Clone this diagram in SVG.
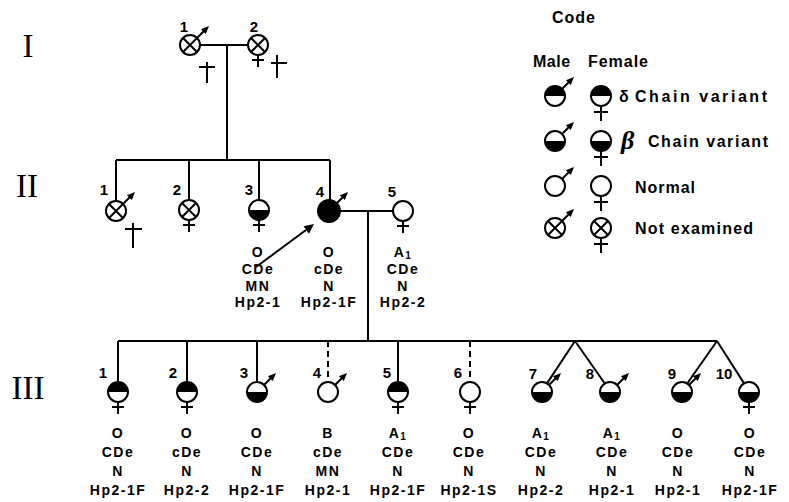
<svg xmlns="http://www.w3.org/2000/svg" width="789" height="502" viewBox="0 0 789 502">
  <style>
    .ln { stroke: #000; stroke-width: 2; fill: none; }
    .dash { stroke-dasharray: 6 4; }
    .ring { stroke: #000; stroke-width: 2; fill: none; }
    .ink { fill: #000; stroke: none; }
    .lbl { font-family: "Liberation Sans", Arial, sans-serif; font-weight: bold; font-size: 15px; text-anchor: middle; fill: #000; }
    .gt { font-family: "Liberation Sans", Arial, sans-serif; font-weight: bold; font-size: 14px; text-anchor: middle; letter-spacing: 1.5px; fill: #000; }
    .sub { font-size: 10px; }
    .rom { font-family: "Liberation Serif", "Times New Roman", serif; font-size: 33px; text-anchor: middle; fill: #000; }
    .leg { font-family: "Liberation Sans", Arial, sans-serif; font-weight: bold; font-size: 16px; fill: #000; }
  </style>
  <defs>
    <!-- symbol bodies, centred on the origin -->
    <g id="c-open"><circle r="10" fill="#fff" class="ring"/></g>
    <g id="c-x"><circle r="10" fill="#fff" class="ring"/><path class="ln" d="M-7,-7 L7,7 M-7,7 L7,-7"/></g>
    <g id="c-delta"><circle r="10" fill="#fff"/><path class="ink" d="M-10,0 A10,10 0 0 1 10,0 Z"/><circle r="10" class="ring"/></g>
    <g id="c-beta"><circle r="10" fill="#fff"/><path class="ink" d="M-10,0 A10,10 0 0 0 10,0 Z"/><circle r="10" class="ring"/></g>
    <g id="c-full"><circle r="11" class="ink"/><circle r="11" class="ring"/></g>
    <!-- male arrow and female cross -->
    <g id="m-arrow"><path class="ln" d="M7,-7 L14,-14"/><path class="ink" d="M19,-19 L15.8,-10.9 L10.9,-15.8 Z"/></g>
    <g id="f-cross"><path class="ln" d="M0,10 V22 M-6,15 H6"/></g>
    <g id="f-cross-l"><path class="ln" d="M0,10 V25 M-7,16 H7"/></g>
  </defs>

  <!-- generation numerals -->
  <g id="generations">
    <text class="rom" x="28" y="57">I</text>
    <text class="rom" x="27" y="197">II</text>
    <text class="rom" x="28" y="399">III</text>
  </g>

  <!-- legend -->
  <g id="legend">
    <text class="leg" x="552" y="23" textLength="43" lengthAdjust="spacing">Code</text>
    <text class="leg" x="533" y="67" letter-spacing="0.5">Male</text>
    <text class="leg" x="588" y="67" textLength="60" lengthAdjust="spacing">Female</text>

    <use href="#c-delta" x="555" y="96"/><use href="#m-arrow" x="555" y="96"/>
    <use href="#c-delta" x="601" y="96"/><use href="#f-cross-l" x="601" y="96"/>
    <text class="leg" x="619" y="102" font-size="17">δ</text>
    <text class="leg" x="635" y="102" textLength="132" lengthAdjust="spacing">Chain variant</text>

    <use href="#c-beta" x="555" y="141"/><use href="#m-arrow" x="555" y="141"/>
    <use href="#c-beta" x="601" y="141"/><use href="#f-cross-l" x="601" y="141"/>
    <text x="621" y="149" font-family="Liberation Serif, serif" font-style="italic" font-weight="bold" font-size="26">β</text>
    <text class="leg" x="648" y="147" textLength="120" lengthAdjust="spacing">Chain variant</text>

    <use href="#c-open" x="555" y="186"/><use href="#m-arrow" x="555" y="186"/>
    <use href="#c-open" x="601" y="186"/><use href="#f-cross-l" x="601" y="186"/>
    <text class="leg" x="635" y="193" textLength="60" lengthAdjust="spacing">Normal</text>

    <use href="#c-x" x="555" y="228"/><use href="#m-arrow" x="555" y="228"/>
    <use href="#c-x" x="601" y="228"/><use href="#f-cross-l" x="601" y="228"/>
    <text class="leg" x="635" y="234" textLength="118" lengthAdjust="spacing">Not examined</text>
  </g>

  <!-- lines of descent -->
  <g id="connectors">
    <path class="ln" d="M200,45 H248 M227,45 V160"/>
    <path class="ln" d="M116,160 H330 M116,160 V200 M189,160 V200 M259,160 V200 M330,160 V200"/>
    <path class="ln" d="M340,211 H393 M368,211 V341"/>
    <path class="ln" d="M118,341 H717"/>
    <path class="ln" d="M118,341 V382 M187,341 V382 M257,341 V382 M398,341 V382"/>
    <path class="ln dash" d="M328,341 V382 M470,341 V382"/>
    <path class="ln" d="M575,341 L547.5,382.6 M575,341 L604.3,382.8"/>
    <path class="ln" d="M717,341 L687.7,382.8 M717,341 L743.6,382.6"/>
  </g>

  <!-- generation I -->
  <g id="I-1">
    <use href="#c-x" x="190" y="45"/><use href="#m-arrow" x="190" y="45"/>
    <text class="lbl" x="184" y="32">1</text>
    <path class="ln" d="M207,62 V83 M199,67 H215"/>
  </g>
  <g id="I-2">
    <use href="#c-x" x="258" y="45"/><use href="#f-cross" x="258" y="45"/>
    <text class="lbl" x="254" y="32">2</text>
    <path class="ln" d="M277,55 V78 M271,63 H287"/>
  </g>

  <!-- generation II -->
  <g id="II-1">
    <use href="#c-x" x="116" y="211"/><use href="#m-arrow" x="116" y="211"/>
    <text class="lbl" x="104" y="195">1</text>
    <path class="ln" d="M133,223 V248 M125,229 H142"/>
  </g>
  <g id="II-2">
    <use href="#c-x" x="189" y="210"/><use href="#f-cross" x="189" y="210"/>
    <text class="lbl" x="177" y="195">2</text>
  </g>
  <g id="II-3">
    <use href="#c-beta" x="259" y="210"/><use href="#f-cross" x="259" y="210"/>
    <text class="lbl" x="249" y="195">3</text>
    <text class="gt" x="258" y="257">O</text>
    <text class="gt" x="258" y="274">CDe</text>
    <text class="gt" x="258" y="291">MN</text>
    <text class="gt" x="258" y="307">Hp2-1</text>
  </g>
  <g id="II-4">
    <use href="#c-full" x="329" y="211"/><use href="#m-arrow" x="329" y="211"/>
    <text class="lbl" x="320" y="197">4</text>
    <path class="ln" d="M256,267 L306,230"/>
    <path class="ink" d="M314,224 L303.5,226.3 L309,233.8 Z"/>
    <text class="gt" x="329" y="257">O</text>
    <text class="gt" x="329" y="274">cDe</text>
    <text class="gt" x="329" y="291">N</text>
    <text class="gt" x="329" y="307">Hp2-1F</text>
  </g>
  <g id="II-5">
    <use href="#c-open" x="403" y="211"/><use href="#f-cross" x="403" y="211"/>
    <text class="lbl" x="392" y="197">5</text>
    <text class="gt" x="403" y="257">A<tspan class="sub" dy="2">1</tspan></text>
    <text class="gt" x="403" y="274">CDe</text>
    <text class="gt" x="403" y="291">N</text>
    <text class="gt" x="403" y="307">Hp2-2</text>
  </g>

  <!-- generation III -->
  <g id="III-1">
    <use href="#c-delta" x="118" y="392"/><use href="#f-cross" x="118" y="392"/>
    <text class="lbl" x="103" y="378">1</text>
    <text class="gt" x="118" y="438">O</text>
    <text class="gt" x="118" y="457">CDe</text>
    <text class="gt" x="118" y="476">N</text>
    <text class="gt" x="118" y="495">Hp2-1F</text>
  </g>
  <g id="III-2">
    <use href="#c-delta" x="187" y="392"/><use href="#f-cross" x="187" y="392"/>
    <text class="lbl" x="173" y="378">2</text>
    <text class="gt" x="187" y="438">O</text>
    <text class="gt" x="187" y="457">cDe</text>
    <text class="gt" x="187" y="476">N</text>
    <text class="gt" x="187" y="495">Hp2-2</text>
  </g>
  <g id="III-3">
    <use href="#c-beta" x="257" y="392"/><use href="#m-arrow" x="257" y="392"/>
    <text class="lbl" x="244" y="378">3</text>
    <text class="gt" x="257" y="438">O</text>
    <text class="gt" x="257" y="457">CDe</text>
    <text class="gt" x="257" y="476">N</text>
    <text class="gt" x="257" y="495">Hp2-1F</text>
  </g>
  <g id="III-4">
    <use href="#c-open" x="328" y="392"/><use href="#m-arrow" x="328" y="392"/>
    <text class="lbl" x="317" y="378">4</text>
    <text class="gt" x="328" y="438">B</text>
    <text class="gt" x="328" y="457">cDe</text>
    <text class="gt" x="328" y="476">MN</text>
    <text class="gt" x="328" y="495">Hp2-1</text>
  </g>
  <g id="III-5">
    <use href="#c-delta" x="398" y="392"/><use href="#f-cross" x="398" y="392"/>
    <text class="lbl" x="387" y="378">5</text>
    <text class="gt" x="398" y="438">A<tspan class="sub" dy="2">1</tspan></text>
    <text class="gt" x="398" y="457">CDe</text>
    <text class="gt" x="398" y="476">N</text>
    <text class="gt" x="398" y="495">Hp2-1F</text>
  </g>
  <g id="III-6">
    <use href="#c-open" x="470" y="392"/><use href="#f-cross" x="470" y="392"/>
    <text class="lbl" x="458" y="378">6</text>
    <text class="gt" x="469" y="438">O</text>
    <text class="gt" x="469" y="457">CDe</text>
    <text class="gt" x="469" y="476">N</text>
    <text class="gt" x="469" y="495">Hp2-1S</text>
  </g>
  <g id="III-7">
    <use href="#c-beta" x="542" y="392"/><use href="#m-arrow" x="542" y="392"/>
    <text class="lbl" x="533" y="379">7</text>
    <text class="gt" x="541" y="438">A<tspan class="sub" dy="2">1</tspan></text>
    <text class="gt" x="541" y="457">CDe</text>
    <text class="gt" x="541" y="476">N</text>
    <text class="gt" x="541" y="495">Hp2-2</text>
  </g>
  <g id="III-8">
    <use href="#c-beta" x="610" y="392"/><use href="#m-arrow" x="610" y="392"/>
    <text class="lbl" x="590" y="379">8</text>
    <text class="gt" x="612" y="438">A<tspan class="sub" dy="2">1</tspan></text>
    <text class="gt" x="612" y="457">CDe</text>
    <text class="gt" x="612" y="476">N</text>
    <text class="gt" x="612" y="495">Hp2-1</text>
  </g>
  <g id="III-9">
    <use href="#c-beta" x="682" y="392"/><use href="#m-arrow" x="682" y="392"/>
    <text class="lbl" x="672" y="379">9</text>
    <text class="gt" x="678" y="438">O</text>
    <text class="gt" x="678" y="457">CDe</text>
    <text class="gt" x="678" y="476">N</text>
    <text class="gt" x="678" y="495">Hp2-1</text>
  </g>
  <g id="III-10">
    <use href="#c-beta" x="749" y="392"/><use href="#f-cross" x="749" y="392"/>
    <text class="lbl" x="724" y="379">10</text>
    <text class="gt" x="750" y="438">O</text>
    <text class="gt" x="750" y="457">CDe</text>
    <text class="gt" x="750" y="476">N</text>
    <text class="gt" x="750" y="495">Hp2-1F</text>
  </g>
</svg>
